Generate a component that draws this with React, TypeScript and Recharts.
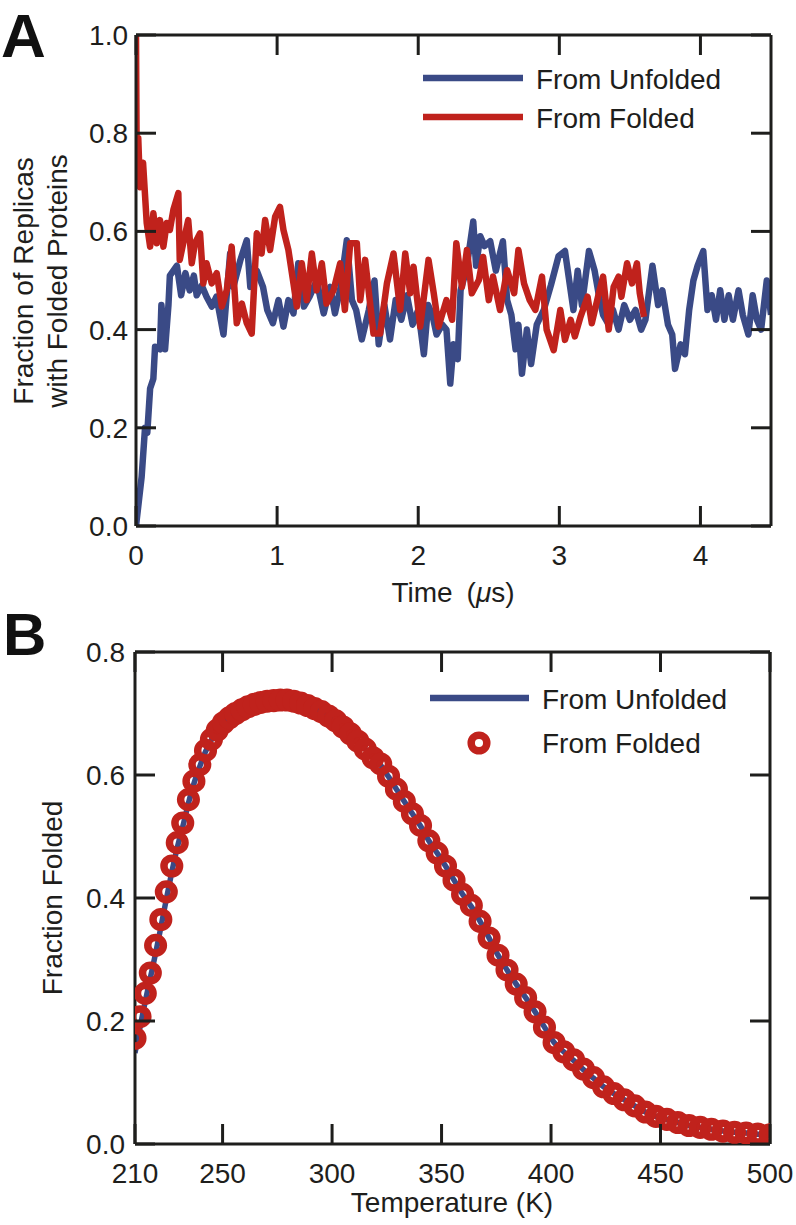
import React from "react";
import {
  LineChart,
  ComposedChart,
  Line,
  XAxis,
  YAxis,
  Legend,
} from "recharts";

const FONT = '"Liberation Sans", Arial, Helvetica, sans-serif';
const INK = "#1e1e1c";
const BLUE = "#3a4a86";
const RED = "#c0221c";

// Panel A: fraction of replicas with folded proteins vs time (µs)
const timeTicks = [0, 1, 2, 3, 4];
const fracTicksA = [0, 0.2, 0.4, 0.6, 0.8, 1.0];

const unfoldedTime = [
  0, 0.02, 0.04, 0.064, 0.08, 0.1, 0.123, 0.135, 0.17, 0.18, 0.206, 0.23, 0.24,
  0.29, 0.32, 0.35, 0.38, 0.41, 0.43, 0.466, 0.5, 0.537, 0.57, 0.62, 0.667,
  0.69, 0.74, 0.785, 0.81, 0.856, 0.9, 0.93, 0.97, 1.01, 1.045, 1.08, 1.116,
  1.15, 1.19, 1.23, 1.28, 1.33, 1.376, 1.41, 1.45, 1.494, 1.53, 1.56, 1.6,
  1.65, 1.69, 1.72, 1.76, 1.8, 1.84, 1.88, 1.92, 1.96, 2.0, 2.04, 2.07, 2.1,
  2.13, 2.17, 2.2, 2.227, 2.25, 2.28, 2.3, 2.34, 2.39, 2.41, 2.44, 2.47, 2.51,
  2.55, 2.6, 2.63, 2.66, 2.69, 2.71, 2.735, 2.77, 2.8, 2.84, 2.89, 2.94, 2.995,
  3.04, 3.07, 3.1, 3.13, 3.16, 3.21, 3.25, 3.28, 3.31, 3.35, 3.38, 3.42, 3.46,
  3.5, 3.54, 3.58, 3.61, 3.66, 3.7, 3.73, 3.77, 3.8, 3.82, 3.86, 3.89, 3.92,
  3.95, 3.98, 4.02, 4.05, 4.08, 4.11, 4.14, 4.17, 4.2, 4.23, 4.27, 4.3, 4.34,
  4.37, 4.4, 4.43, 4.47, 4.5,
];
const unfoldedFrac = [
  0, 0.05, 0.1, 0.2, 0.19, 0.28, 0.3, 0.365, 0.36, 0.45, 0.36, 0.45, 0.51,
  0.53, 0.47, 0.515, 0.48, 0.51, 0.47, 0.49, 0.467, 0.447, 0.467, 0.39, 0.555,
  0.487, 0.542, 0.582, 0.487, 0.52, 0.487, 0.44, 0.413, 0.46, 0.406, 0.46,
  0.433, 0.535, 0.447, 0.467, 0.5, 0.433, 0.487, 0.433, 0.487, 0.582, 0.46,
  0.44, 0.38, 0.44, 0.5, 0.37, 0.45, 0.38, 0.46, 0.42, 0.47, 0.41, 0.44, 0.35,
  0.45, 0.43, 0.39, 0.41, 0.4, 0.29, 0.37, 0.34, 0.48, 0.52, 0.62, 0.53, 0.59,
  0.57, 0.58, 0.52, 0.58, 0.46, 0.43, 0.36, 0.41, 0.31, 0.4, 0.33, 0.41, 0.44,
  0.49, 0.55, 0.56, 0.5, 0.44, 0.52, 0.45, 0.56, 0.52, 0.47, 0.43, 0.41, 0.44,
  0.4, 0.45, 0.42, 0.44, 0.4, 0.42, 0.53, 0.45, 0.48, 0.41, 0.39, 0.32, 0.37,
  0.35, 0.44, 0.5, 0.53, 0.56, 0.44, 0.47, 0.42, 0.48, 0.42, 0.47, 0.42, 0.48,
  0.43, 0.39, 0.47, 0.42, 0.4, 0.5, 0.43,
];

const foldedTime = [
  0, 0.005, 0.016, 0.028, 0.05, 0.076, 0.1, 0.123, 0.147, 0.17, 0.194, 0.218,
  0.24, 0.265, 0.3, 0.31, 0.335, 0.37, 0.395, 0.418, 0.454, 0.477, 0.5, 0.537,
  0.572, 0.608, 0.643, 0.678, 0.714, 0.75, 0.785, 0.82, 0.856, 0.89, 0.915,
  0.95, 0.986, 1.02, 1.045, 1.08, 1.116, 1.14, 1.175, 1.21, 1.246, 1.28, 1.317,
  1.35, 1.4, 1.447, 1.48, 1.518, 1.565, 1.589, 1.624, 1.683, 1.73, 1.778,
  1.825, 1.872, 1.908, 1.943, 1.967, 2.014, 2.073, 2.11, 2.144, 2.2, 2.24,
  2.27, 2.31, 2.345, 2.38, 2.43, 2.46, 2.5, 2.53, 2.58, 2.63, 2.68, 2.71, 2.75,
  2.79, 2.83, 2.877, 2.91, 2.96, 3.007, 3.04, 3.08, 3.11, 3.15, 3.2, 3.23,
  3.28, 3.31, 3.35, 3.385, 3.42, 3.44, 3.48, 3.515, 3.55, 3.57, 3.6,
];
const foldedFrac = [
  1.0, 0.74, 0.79, 0.69, 0.74, 0.617, 0.569, 0.637, 0.576, 0.623, 0.569, 0.617,
  0.603, 0.644, 0.678, 0.542, 0.576, 0.623, 0.535, 0.576, 0.596, 0.494, 0.535,
  0.494, 0.515, 0.447, 0.48, 0.569, 0.413, 0.453, 0.413, 0.392, 0.596, 0.555,
  0.623, 0.562, 0.63, 0.65, 0.603, 0.562, 0.494, 0.447, 0.535, 0.46, 0.555,
  0.48, 0.535, 0.453, 0.48, 0.535, 0.44, 0.576, 0.576, 0.46, 0.542, 0.392,
  0.392, 0.494, 0.555, 0.44, 0.555, 0.474, 0.528, 0.406, 0.542, 0.474, 0.406,
  0.46, 0.42, 0.576, 0.487, 0.562, 0.474, 0.501, 0.548, 0.46, 0.508, 0.44,
  0.521, 0.474, 0.562, 0.494, 0.46, 0.44, 0.508, 0.4, 0.358, 0.44, 0.379, 0.42,
  0.386, 0.426, 0.467, 0.413, 0.474, 0.508, 0.4, 0.487, 0.508, 0.467, 0.535,
  0.494, 0.535, 0.474, 0.426,
];

// Panel B: fraction folded vs replica temperature (K)
const tempTicks = [210, 250, 300, 350, 400, 450, 500];
const fracTicksB = [0, 0.2, 0.4, 0.6, 0.8];

const temperatures = [
  210.0, 212.3, 214.7, 217.0, 219.4, 221.8, 224.3, 226.8, 229.3, 231.8, 234.4,
  236.9, 239.6, 242.2, 244.9, 247.6, 250.4, 253.1, 255.9, 258.8, 261.6, 264.5,
  267.4, 270.4, 273.4, 276.4, 279.4, 282.5, 285.6, 288.8, 292.0, 295.1, 298.4,
  301.7, 305.0, 308.4, 311.8, 315.2, 318.7, 322.2, 325.8, 329.4, 333.0, 336.7,
  340.4, 344.2, 348.0, 351.8, 355.7, 359.6, 363.6, 367.6, 371.7, 375.8, 379.9,
  384.1, 388.4, 392.7, 397.0, 401.4, 405.8, 410.3, 414.8, 419.4, 424.0, 428.7,
  433.4, 438.2, 443.1, 447.9, 452.9, 457.9, 463.0, 468.1, 473.2, 478.5, 483.8,
  489.1, 494.5, 500.0,
];
const fromUnfolded = [
  0.148, 0.19, 0.232, 0.27, 0.31, 0.352, 0.398, 0.442, 0.482, 0.516, 0.554,
  0.586, 0.614, 0.638, 0.657, 0.672, 0.684, 0.693, 0.7, 0.706, 0.711, 0.715,
  0.718, 0.72, 0.721, 0.722, 0.722, 0.72, 0.717, 0.713, 0.708, 0.703, 0.696,
  0.688, 0.678, 0.667, 0.655, 0.642, 0.628, 0.616, 0.597, 0.577, 0.557, 0.537,
  0.517, 0.493, 0.473, 0.452, 0.429, 0.406, 0.386, 0.362, 0.335, 0.307, 0.283,
  0.26, 0.238, 0.215, 0.19, 0.165, 0.15, 0.136, 0.121, 0.107, 0.093, 0.082,
  0.072, 0.062, 0.052, 0.045, 0.04, 0.035, 0.03, 0.027, 0.024, 0.021, 0.019,
  0.018, 0.016, 0.015,
];
const fromFolded = [
  0.172, 0.207, 0.245, 0.278, 0.323, 0.365, 0.41, 0.452, 0.49, 0.522, 0.56,
  0.59, 0.617, 0.64, 0.658, 0.673, 0.685, 0.693, 0.7, 0.706, 0.711, 0.715,
  0.718, 0.72, 0.721, 0.722, 0.722, 0.72, 0.717, 0.713, 0.708, 0.703, 0.696,
  0.688, 0.678, 0.667, 0.655, 0.642, 0.628, 0.618, 0.598, 0.577, 0.557, 0.537,
  0.518, 0.493, 0.473, 0.452, 0.429, 0.406, 0.388, 0.362, 0.335, 0.307, 0.283,
  0.26, 0.238, 0.215, 0.19, 0.165, 0.15, 0.137, 0.122, 0.108, 0.093, 0.082,
  0.072, 0.062, 0.052, 0.045, 0.04, 0.035, 0.03, 0.027, 0.024, 0.021, 0.019,
  0.018, 0.016, 0.015,
];

const unfoldedSeries = unfoldedTime.map((t, i) => ({ t, v: unfoldedFrac[i] }));
const foldedSeries = foldedTime.map((t, i) => ({ t, v: foldedFrac[i] }));
const tempData = temperatures.map((T, i) => ({
  T,
  unfolded: fromUnfolded[i],
  folded: fromFolded[i],
}));

const axisStroke = { stroke: INK, strokeWidth: 3 };
const TICK_LEN = 20;
const fmt1 = (v: number) => v.toFixed(1);

// inward tick marks, drawn by the axes' own tick renderers
function BottomTick(props: any) {
  const { x, y, payload, withLabel } = props;
  return (
    <g>
      <line x1={x} x2={x} y1={y} y2={y - TICK_LEN} stroke={INK} strokeWidth={3} />
      {withLabel && (
        <text x={x} y={y + 39} textAnchor="middle" fontSize={28} fontFamily={FONT} fill={INK}>
          {payload.value}
        </text>
      )}
    </g>
  );
}

function TopTick(props: any) {
  const { x, y } = props;
  return <line x1={x} x2={x} y1={y} y2={y + TICK_LEN} stroke={INK} strokeWidth={3} />;
}

function LeftTick(props: any) {
  const { x, y, payload, gap } = props;
  return (
    <g>
      <line x1={x} x2={x + TICK_LEN} y1={y} y2={y} stroke={INK} strokeWidth={3} />
      <text x={x - gap} y={y + 10} textAnchor="end" fontSize={28} fontFamily={FONT} fill={INK}>
        {fmt1(payload.value)}
      </text>
    </g>
  );
}

function RightTick(props: any) {
  const { x, y } = props;
  return <line x1={x} x2={x - TICK_LEN} y1={y} y2={y} stroke={INK} strokeWidth={3} />;
}

function LegendA() {
  return (
    <svg width={340} height={90} style={{ display: "block" }}>
      <line x1={8} x2={108} y1={23} y2={23} stroke={BLUE} strokeWidth={6.5} />
      <text x={121} y={34} fontSize={28} fontFamily={FONT} fill={INK}>
        From Unfolded
      </text>
      <line x1={8} x2={108} y1={62} y2={62} stroke={RED} strokeWidth={6.5} />
      <text x={121} y={73} fontSize={28} fontFamily={FONT} fill={INK}>
        From Folded
      </text>
    </svg>
  );
}

function LegendB() {
  return (
    <svg width={340} height={110} style={{ display: "block" }}>
      <line x1={15} x2={114} y1={43} y2={43} stroke={BLUE} strokeWidth={6.5} />
      <text x={127} y={54} fontSize={28} fontFamily={FONT} fill={INK}>
        From Unfolded
      </text>
      <circle cx={64} cy={88} r={7.8} fill="none" stroke={RED} strokeWidth={7.5} />
      <text x={127} y={98} fontSize={28} fontFamily={FONT} fill={INK}>
        From Folded
      </text>
    </svg>
  );
}

function PanelA() {
  return (
    <LineChart
      width={796}
      height={612}
      margin={{ top: 34, right: 24, bottom: 0, left: 0 }}
    >
      <XAxis
        xAxisId="bottom"
        type="number"
        dataKey="t"
        domain={[0, 4.5]}
        ticks={timeTicks}
        interval={0}
        allowDataOverflow
        height={86}
        tickSize={0}
        tickMargin={0}
        tickLine={false}
        tick={(p: any) => <BottomTick {...p} withLabel />}
        axisLine={axisStroke}
        label={() => (
          <text x={453} y={602} textAnchor="middle" fontSize={28} fontFamily={FONT} fill={INK}>
            Time{"\u2002"}(<tspan fontStyle="italic">μ</tspan>s)
          </text>
        )}
      />
      <XAxis
        xAxisId="top"
        orientation="top"
        type="number"
        dataKey="t"
        domain={[0, 4.5]}
        ticks={timeTicks}
        interval={0}
        allowDataOverflow
        height={1}
        tickSize={0}
        tickMargin={0}
        tickLine={false}
        tick={(p: any) => <TopTick {...p} />}
        axisLine={axisStroke}
      />
      <YAxis
        yAxisId="left"
        type="number"
        domain={[0, 1]}
        ticks={fracTicksA}
        interval={0}
        allowDataOverflow
        width={136}
        tickSize={0}
        tickMargin={0}
        tickLine={false}
        tick={(p: any) => <LeftTick {...p} gap={8} />}
        axisLine={axisStroke}
        label={() => (
          <g fontSize={28} fontFamily={FONT} fill={INK}>
            <text transform="translate(33,281) rotate(-90)" textAnchor="middle">
              Fraction of Replicas
            </text>
            <text transform="translate(67,281) rotate(-90)" textAnchor="middle">
              with Folded Proteins
            </text>
          </g>
        )}
      />
      <YAxis
        yAxisId="right"
        orientation="right"
        type="number"
        domain={[0, 1]}
        ticks={fracTicksA}
        interval={0}
        allowDataOverflow
        width={1}
        tickSize={0}
        tickMargin={0}
        tickLine={false}
        tick={(p: any) => <RightTick {...p} />}
        axisLine={axisStroke}
      />
      <Legend
        layout="horizontal"
        align="center"
        verticalAlign="middle"
        wrapperStyle={{ left: 415, top: 55, width: 340, height: 90 }}
        content={() => <LegendA />}
      />
      <Line
        xAxisId="bottom"
        yAxisId="left"
        data={unfoldedSeries}
        dataKey="v"
        name="From Unfolded"
        type="linear"
        stroke={BLUE}
        strokeWidth={6.5}
        strokeLinejoin="round"
        dot={false}
        activeDot={false}
        isAnimationActive={false}
      />
      <Line
        xAxisId="bottom"
        yAxisId="left"
        data={foldedSeries}
        dataKey="v"
        name="From Folded"
        type="linear"
        stroke={RED}
        strokeWidth={6.5}
        strokeLinejoin="round"
        dot={false}
        activeDot={false}
        isAnimationActive={false}
      />
    </LineChart>
  );
}

function PanelB() {
  return (
    <ComposedChart
      width={796}
      height={613}
      data={tempData}
      margin={{ top: 39, right: 25, bottom: 0, left: 0 }}
    >
      <XAxis
        xAxisId="bottom"
        type="number"
        dataKey="T"
        domain={[210, 500]}
        ticks={tempTicks}
        interval={0}
        allowDataOverflow
        height={81}
        tickSize={0}
        tickMargin={0}
        tickLine={false}
        tick={(p: any) => <BottomTick {...p} withLabel />}
        axisLine={axisStroke}
        label={() => (
          <text x={452} y={600} textAnchor="middle" fontSize={28} fontFamily={FONT} fill={INK}>
            Temperature (K)
          </text>
        )}
      />
      <XAxis
        xAxisId="top"
        orientation="top"
        type="number"
        dataKey="T"
        domain={[210, 500]}
        ticks={tempTicks}
        interval={0}
        allowDataOverflow
        height={1}
        tickSize={0}
        tickMargin={0}
        tickLine={false}
        tick={(p: any) => <TopTick {...p} />}
        axisLine={axisStroke}
      />
      <YAxis
        yAxisId="left"
        type="number"
        domain={[0, 0.8]}
        ticks={fracTicksB}
        interval={0}
        allowDataOverflow
        width={135}
        tickSize={0}
        tickMargin={0}
        tickLine={false}
        tick={(p: any) => <LeftTick {...p} gap={10} />}
        axisLine={axisStroke}
        label={() => (
          <text
            transform="translate(62,286) rotate(-90)"
            textAnchor="middle"
            fontSize={28}
            fontFamily={FONT}
            fill={INK}
          >
            Fraction Folded
          </text>
        )}
      />
      <YAxis
        yAxisId="right"
        orientation="right"
        type="number"
        domain={[0, 0.8]}
        ticks={fracTicksB}
        interval={0}
        allowDataOverflow
        width={1}
        tickSize={0}
        tickMargin={0}
        tickLine={false}
        tick={(p: any) => <RightTick {...p} />}
        axisLine={axisStroke}
      />
      <Legend
        layout="horizontal"
        align="center"
        verticalAlign="middle"
        wrapperStyle={{ left: 415, top: 43, width: 340, height: 110 }}
        content={() => <LegendB />}
      />
      <Line
        xAxisId="bottom"
        yAxisId="left"
        dataKey="unfolded"
        name="From Unfolded"
        type="monotone"
        stroke={BLUE}
        strokeWidth={5.5}
        dot={false}
        activeDot={false}
        isAnimationActive={false}
      />
      <Line
        xAxisId="bottom"
        yAxisId="left"
        dataKey="folded"
        name="From Folded"
        type="linear"
        stroke="none"
        dot={{ r: 7.8, fill: "none", stroke: RED, strokeWidth: 7.5 }}
        activeDot={false}
        isAnimationActive={false}
      />
    </ComposedChart>
  );
}

export default function App() {
  return (
    <div
      style={{
        position: "absolute",
        left: 0,
        top: 0,
        width: 796,
        height: 1225,
        background: "#fff",
        fontFamily: FONT,
      }}
    >
      <div style={{ position: "absolute", left: 0, top: 0 }}>
        <PanelA />
      </div>
      <div style={{ position: "absolute", left: 0, top: 612 }}>
        <PanelB />
      </div>
      <svg
        width={796}
        height={1225}
        style={{ position: "absolute", left: 0, top: 0, pointerEvents: "none" }}
      >
        <text x={1} y={57} fontSize={62} fontWeight="bold" fontFamily={FONT} fill="#111">
          A
        </text>
        <text x={3} y={655} fontSize={60} fontWeight="bold" fontFamily={FONT} fill="#111">
          B
        </text>
      </svg>
    </div>
  );
}
